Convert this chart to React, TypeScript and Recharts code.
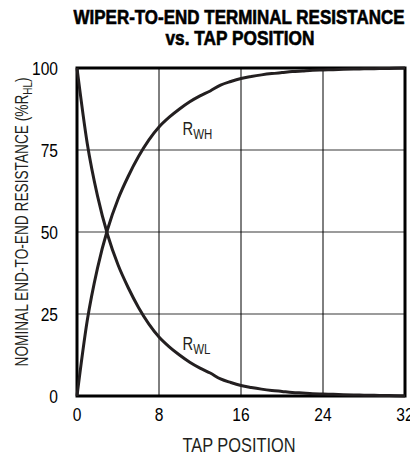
import { LineChart, Line, XAxis, YAxis, CartesianGrid, ReferenceArea, ReferenceDot, Customized } from 'recharts';

const FONT = '"Liberation Sans", Arial, sans-serif';
const NARROW = 0.82; // squeeze Liberation Sans to look like a narrow face

// tap positions 0..32
const taps = [0, 1, 2, 3, 4, 5, 6, 7, 8, 9, 10, 11, 12, 13, 14, 15, 16, 17, 18, 19, 20, 21, 22, 23, 24, 25, 26, 27, 28, 29, 30, 31, 32];
// wiper-to-low and wiper-to-high resistance, % of R_HL
const rwl = [100, 77, 61, 49, 40, 33, 27, 22, 18, 15, 12.5, 10.3, 8.5, 7, 5.2, 4.1, 3.2, 2.6, 2.1, 1.7, 1.4, 1.1, 0.9, 0.7, 0.6, 0.5, 0.4, 0.3, 0.25, 0.2, 0.15, 0.1, 0];
const rwh = [0, 23, 39, 51, 60, 67, 73, 78, 82, 85, 87.5, 89.7, 91.5, 93, 94.8, 95.9, 96.8, 97.4, 97.9, 98.3, 98.6, 98.9, 99.1, 99.3, 99.4, 99.5, 99.6, 99.7, 99.75, 99.8, 99.85, 99.9, 100];
const xTicks = [0, 8, 16, 24, 32];
const yTicks = [0, 25, 50, 75, 100];

const data = taps.map((tap, i) => ({ tap, rwl: rwl[i], rwh: rwh[i] }));

function XTick({ x, y, payload }: any) {
  return (
    <g transform={`translate(${x},${y})`}>
      <text transform={`scale(${NARROW},1)`} textAnchor="middle" dy="0.72em" fill="#000" fontFamily={FONT} fontSize={19}>
        {payload.value}
      </text>
    </g>
  );
}

function YTick({ x, y, payload }: any) {
  return (
    <g transform={`translate(${x},${y})`}>
      <text transform={`scale(${NARROW},1)`} textAnchor="end" dy="0.36em" fill="#000" fontFamily={FONT} fontSize={19}>
        {payload.value}
      </text>
    </g>
  );
}

// "R" with a subscript, anchored at the label's data point
function subLabel(sub: string) {
  return ({ viewBox }: any) => (
    <g transform={`translate(${viewBox.x},${viewBox.y})`}>
      <text transform={`scale(${NARROW},1)`} fill="#231f20" fontFamily={FONT} fontSize={18}>
        R
        <tspan fontSize={14} dy={4}>{sub}</tspan>
      </text>
    </g>
  );
}

function XTitle({ viewBox }: any) {
  const cx = viewBox.x + viewBox.width / 2 - 2;
  return (
    <g transform={`translate(${cx},452)`}>
      <text transform={`scale(${NARROW},1)`} textAnchor="middle" fill="#231f20" fontFamily={FONT} fontSize={20}>
        TAP POSITION
      </text>
    </g>
  );
}

function YTitle({ viewBox }: any) {
  const cx = viewBox.x + 28;
  const cy = viewBox.y + viewBox.height / 2 - 10;
  return (
    <text
      x={cx}
      y={cy}
      transform={`rotate(-90 ${cx} ${cy})`}
      textAnchor="middle"
      fill="#231f20"
      fontFamily={FONT}
      fontSize={18}
      textLength={289}
      lengthAdjust="spacingAndGlyphs"
    >
      NOMINAL END-TO-END RESISTANCE (%R
      <tspan fontSize={13} dy={4}>HL</tspan>
      <tspan dy={-4}>)</tspan>
    </text>
  );
}

function Title() {
  return (
    <g fontFamily={FONT} fontWeight="bold" fill="#000" stroke="#000" strokeWidth={0.6}>
      <text x={239} y={24} textAnchor="middle" fontSize={19.5} textLength={331} lengthAdjust="spacingAndGlyphs">
        WIPER-TO-END TERMINAL RESISTANCE
      </text>
      <text x={240} y={45} textAnchor="middle" fontSize={19.5} textLength={149} lengthAdjust="spacingAndGlyphs">
        vs. TAP POSITION
      </text>
    </g>
  );
}

export default function App() {
  return (
    <div style={{ position: 'absolute', left: 0, top: 0, width: 410, height: 457, background: '#fff' }}>
      <LineChart width={410} height={457} data={data} margin={{ top: 68, right: 5, bottom: 0, left: 0 }}>
        <CartesianGrid horizontal={true} vertical={false} stroke="#7a7a7a" strokeWidth={1.5} />
        <CartesianGrid horizontal={false} vertical={true} stroke="#000" strokeWidth={1} />
        <XAxis
          dataKey="tap"
          type="number"
          domain={[0, 32]}
          ticks={xTicks}
          interval={0}
          tickLine={false}
          axisLine={false}
          tickSize={0}
          tickMargin={11}
          height={61}
          tick={XTick}
          label={{ content: XTitle }}
        />
        <YAxis
          type="number"
          domain={[0, 100]}
          ticks={yTicks}
          interval={0}
          tickLine={false}
          axisLine={false}
          tickSize={0}
          tickMargin={19}
          width={77}
          tick={YTick}
          label={{ content: YTitle }}
        />
        <Line type="monotone" dataKey="rwl" stroke="#231f20" strokeWidth={3} dot={false} isAnimationActive={false} />
        <Line type="monotone" dataKey="rwh" stroke="#231f20" strokeWidth={3} dot={false} isAnimationActive={false} />
        <ReferenceArea x1={0} x2={32} y1={0} y2={100} fill="none" stroke="#000" strokeWidth={3} ifOverflow="visible" />
        <ReferenceDot x={10.3} y={79.6} r={0} fill="none" stroke="none" label={{ content: subLabel('WH') }} />
        <ReferenceDot x={10.3} y={14} r={0} fill="none" stroke="none" label={{ content: subLabel('WL') }} />
        <Customized component={Title} />
      </LineChart>
    </div>
  );
}
